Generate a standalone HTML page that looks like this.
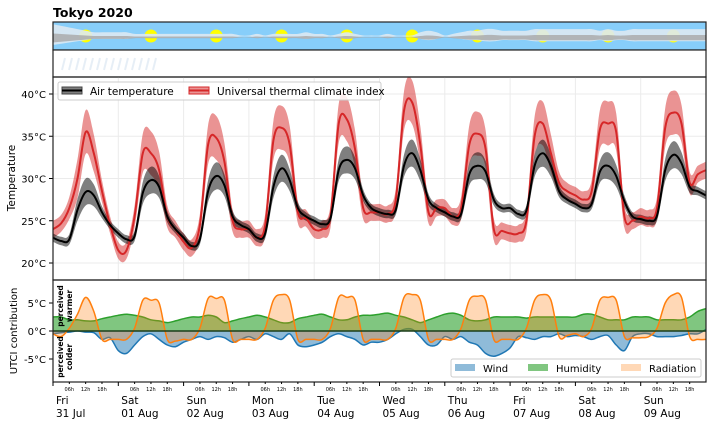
<!DOCTYPE html>
<html><head><meta charset="utf-8"><style>
body{margin:0;background:#fff;width:712px;height:424px;overflow:hidden;font-family:"Liberation Sans","DejaVu Sans",sans-serif}
svg text{font-family:"DejaVu Sans","Liberation Sans",sans-serif}
</style></head><body>
<svg id="c" width="712" height="424" xmlns="http://www.w3.org/2000/svg"></svg>
<script>
const days=["Fri","Sat","Sun","Mon","Tue","Wed","Thu","Fri","Sat","Sun"];
const dates=["31 Jul","01 Aug","02 Aug","03 Aug","04 Aug","05 Aug","06 Aug","07 Aug","08 Aug","09 Aug"];
const tempTicks=[20,25,30,35,40];
const utciTicks=[-5,0,5];
const airTemp=[23.0,22.6,22.8,26.3,28.4,28.0,26.0,24.5, 23.5,22.8,23.2,28.3,29.8,29.0,25.5,24.0, 23.0,22.0,22.8,28.5,30.3,29.2,25.5,24.5, 24.0,23.0,23.5,29.0,31.2,29.8,26.5,25.5, 25.0,24.6,25.3,31.0,32.2,31.2,28.0,26.5, 26.0,25.8,26.3,31.5,33.0,31.0,27.5,26.5, 26.0,25.5,25.8,30.5,31.5,30.8,27.5,26.5, 26.5,25.8,26.2,31.5,33.0,31.5,28.5,27.5, 27.0,26.5,27.0,30.8,31.5,30.3,27.3,25.5, 25.2,25.0,25.6,31.0,32.8,31.8,29.0,28.5, 28.0];
const utci=[24.0,24.7,26.5,30.0,35.5,33.0,28.5,24.5, 21.5,21.5,25.5,33.0,33.0,31.0,25.5,24.0, 22.5,21.8,24.5,34.0,34.8,32.0,25.0,24.0, 24.0,23.0,24.5,34.5,36.0,34.0,26.0,25.3, 24.0,24.0,25.5,36.5,37.0,33.5,26.5,26.0, 26.0,25.8,27.5,38.0,39.0,34.0,26.0,26.5, 26.5,25.5,26.5,34.0,35.3,33.5,24.0,23.8, 23.5,23.5,25.0,35.0,36.5,33.0,29.5,28.5, 28.0,27.5,28.5,35.8,36.5,35.5,25.5,25.0, 25.5,25.3,26.5,36.0,37.8,36.5,29.5,30.5, 31.0];
const airSpread=[0.5,0.5,0.6,1.3,1.6,1.3,0.7,0.5];
const utciSpread=[1.0,1.0,1.3,2.3,2.6,2.2,1.3,1.0];
const wind=[-0.5,-0.3,-0.2,0,-0.2,-0.3,-1.5,-1.2, -3.5,-4.0,-2.5,-1.0,-0.5,-1.5,-2.5,-2.8, -2.0,-1.5,-1.0,-1.5,-1.0,-1.2,-2.0,-1.5, -1.0,-1.5,-0.5,-1.0,-1.5,-0.5,-2.5,-2.8, -2.5,-2.0,-1.0,-0.5,-1.0,-1.5,-2.5,-2.0, -2.0,-1.5,-0.5,0.3,0.3,-1.0,-2.5,-2.5, -1.0,-1.5,-1.0,-2.0,-2.5,-4.0,-4.5,-4.0, -3.0,-1.0,-1.2,-1.5,-1.0,-1.0,-0.5,-1.0, -0.8,-1.0,-1.5,-1.0,-0.8,-2.5,-3.5,-1.0, -0.5,-0.5,-1.0,-1.0,-1.0,-0.8,-0.5,-0.5, 0.3];
const humidity=[2.5,2.5,2.0,2.0,1.8,1.8,2.2,2.5, 2.8,3.0,2.8,2.5,2.0,1.8,1.5,1.8, 2.2,2.5,2.5,2.8,2.5,1.5,1.8,2.2, 2.5,2.8,2.5,2.0,1.5,1.5,2.2,2.5, 2.8,3.0,2.5,2.0,2.0,2.5,2.8,2.8, 3.0,3.2,2.8,2.5,2.0,1.5,2.0,2.5, 3.0,3.2,2.8,2.0,1.8,2.0,2.5,2.5, 2.5,2.5,2.3,2.5,2.5,2.5,2.5,2.5, 2.5,3.0,3.0,2.5,2.0,2.0,2.0,2.5, 2.5,2.5,2.0,2.0,2.0,2.0,2.5,3.5, 4.0];
const radiation=[-0.5,-1.0,0.5,3.0,6.0,3.5,-1.5,-1.5, -1.5,-1.5,0.5,5.5,5.5,5.0,-1.5,-1.8, -1.5,-1.5,0.5,5.8,5.8,5.5,-1.5,-1.5, -1.5,-1.5,0.5,5.5,6.5,5.5,-1.5,-1.5, -1.5,-1.5,0.5,6.0,6.0,5.5,-1.5,-1.5, -1.5,-1.5,0.5,6.0,6.5,5.5,-1.5,-1.5, -1.5,-1.5,0.5,5.5,6.2,5.5,-1.5,-1.5, -1.5,-1.5,0.5,5.5,6.5,5.5,-1.0,-0.8, -0.5,-1.0,0.5,5.5,6.0,5.5,-1.0,-1.2, -1.2,-1.0,0.5,5.0,6.5,6.0,-1.0,-1.5, -1.5];
const cloud=[7,6,5,4,3,2,2,2, 2,2,1,1,1,1,1,1, 1,1,1,1,1,1,1,0, 0,1,0,1,1,1,1,2, 1,1,0,1,2,1,0,0, 0,1,0,0,0,2,3,2, 0,1,2,3,3,4,4,3, 3,3,3,4,4,4,4,4, 4,4,4,3,4,3,3,4, 4,4,4,4,4,4,4,4, 4];

const NS="http://www.w3.org/2000/svg", svg=document.getElementById('c');
const X0=53,X1=706;
const xs=h=>X0+h/240*(X1-X0);
const yT=v=>263-(v-20)*8.45;
const yU=v=>331-v*5.6;
function el(t,a,p){const e=document.createElementNS(NS,t);for(const k in a)e.setAttribute(k,a[k]);(p||svg).appendChild(e);return e;}
function txt(s,a,p){const e=el('text',a,p);e.textContent=s;return e;}
const N=airTemp.length;
const hrs=i=>i*3;
// smooth path through points (Catmull-Rom)
function spl(pts,start){let d=start?'M'+pts[0][0].toFixed(1)+','+pts[0][1].toFixed(1):'L'+pts[0][0].toFixed(1)+','+pts[0][1].toFixed(1);
for(let i=0;i<pts.length-1;i++){const p0=pts[Math.max(0,i-1)],p1=pts[i],p2=pts[i+1],p3=pts[Math.min(pts.length-1,i+2)];
const c1=[p1[0]+(p2[0]-p0[0])/6,p1[1]+(p2[1]-p0[1])/6],c2=[p2[0]-(p3[0]-p1[0])/6,p2[1]-(p3[1]-p1[1])/6];
d+='C'+c1[0].toFixed(1)+','+c1[1].toFixed(1)+' '+c2[0].toFixed(1)+','+c2[1].toFixed(1)+' '+p2[0].toFixed(1)+','+p2[1].toFixed(1);}return d;}
function pts(arr,ys){return arr.map((v,i)=>[xs(hrs(i)),ys(v)]);}
function line(arr,ys){return spl(pts(arr,ys),true);}
function band(lo,hi,ys){return spl(pts(hi,ys),true)+spl(pts(lo,ys).reverse(),false)+'Z';}

let t=txt('Tokyo 2020',{x:53,y:17,'font-size':12.5,'font-weight':'bold',fill:'#000'});


let sky=el('rect',{x:X0,y:22,width:X1-X0,height:28,fill:'#87cefa'});

for(let d=0;d<10;d++){let s=el('circle',{cx:xs(d*24+12),cy:36,r:6.5,fill:'#ffff00'});
}
{let up=[],dn=[],up2=[],dn2=[];
for(let i=0;i<N;i++){const x=xs(hrs(i));up.push([x,36-cloud[i]*1.6-0.5]);dn.push([x,36+cloud[i]*1.2+0.5]);up2.push([x,37-cloud[i]*0.5]);dn2.push([x,37.5+cloud[i]*0.7]);}
let c1=el('path',{d:spl(up,true)+spl(dn.reverse(),false)+'Z',fill:'#dde9f2','fill-opacity':0.9});
let c2=el('path',{d:spl(up2,true)+spl(dn2.reverse(),false)+'Z',fill:'#a8a8a8','fill-opacity':0.8});}
el('rect',{x:X0,y:22,width:X1-X0,height:28,fill:'none',stroke:'#222','stroke-width':1.2});
let rain=el('rect',{x:X0,y:50,width:X1-X0,height:27,fill:'#fff',stroke:'#222','stroke-width':1.2});

for(let k=0;k<14;k++){el('line',{x1:62+k*7,y1:70,x2:65+k*7,y2:58,stroke:'#e6eef6','stroke-width':2});}

let tp=el('g',{});
for(let d=1;d<10;d++)el('line',{x1:xs(d*24),y1:77,x2:xs(d*24),y2:280,stroke:'#ebebeb'},tp);
tempTicks.forEach(v=>{el('line',{x1:X0,y1:yT(v),x2:X1,y2:yT(v),stroke:'#ebebeb'},tp);
el('line',{x1:X0-4,y1:yT(v),x2:X0,y2:yT(v),stroke:'#000'},tp);
let l=txt(v+'°C',{x:X0-7,y:yT(v)+4,'font-size':10,'text-anchor':'end'},tp);});
let aLo=airTemp.map((v,i)=>v-airSpread[i%8]),aHi=airTemp.map((v,i)=>v+airSpread[i%8]);
let uLo=utci.map((v,i)=>v-utciSpread[i%8]),uHi=utci.map((v,i)=>v+utciSpread[i%8]);
let ub=el('path',{d:band(uLo,uHi,yT),fill:'#d62728','fill-opacity':0.5},tp);
let ab=el('path',{d:band(aLo,aHi,yT),fill:'#000','fill-opacity':0.5},tp);
let ul=el('path',{d:line(utci,yT),fill:'none',stroke:'#d62728','stroke-width':2},tp);
let al=el('path',{d:line(airTemp,yT),fill:'none',stroke:'#000','stroke-width':2},tp);
el('rect',{x:X0,y:77,width:X1-X0,height:203,fill:'none',stroke:'#222','stroke-width':1.2});
let yl=txt('Temperature',{transform:'translate(15,178) rotate(-90)','font-size':10.5,'text-anchor':'middle'});
let lg=el('g',{});
el('rect',{x:58,y:82,width:323,height:18,rx:2,fill:'#fff','fill-opacity':0.85,stroke:'#ccc'},lg);
el('rect',{x:62,y:87,width:20,height:7,fill:'#000','fill-opacity':0.5,stroke:'#444'},lg);
el('line',{x1:62,y1:90.5,x2:82,y2:90.5,stroke:'#000','stroke-width':2},lg);
let la=txt('Air temperature',{x:90,y:95,'font-size':10.5},lg);
el('rect',{x:189,y:87,width:20,height:7,fill:'#d62728','fill-opacity':0.5,stroke:'#d62728'},lg);
el('line',{x1:189,y1:90.5,x2:209,y2:90.5,stroke:'#d62728','stroke-width':2},lg);
let lu=txt('Universal thermal climate index',{x:217,y:95,'font-size':10.5},lg);

let bp=el('g',{});
function fillZero(arr){return 'M'+xs(0)+','+yU(0)+spl(pts(arr,yU),false)+'L'+xs(hrs(N-1))+','+yU(0)+'Z';}
[[wind,'#1f77b4',0.5,'wind'],[humidity,'#2ca02c',0.6,'humidity'],[radiation,'#ff7f0e',0.3,'radiation']].forEach(([a,c,o,n])=>{
let f=el('path',{d:fillZero(a),fill:c,'fill-opacity':o},bp);
let l=el('path',{d:line(a,yU),fill:'none',stroke:c,'stroke-width':1.5},bp);});
el('line',{x1:X0,y1:yU(0),x2:X1,y2:yU(0),stroke:'#1a3d1a','stroke-width':1.5},bp);
utciTicks.forEach(v=>{el('line',{x1:X0-4,y1:yU(v),x2:X0,y2:yU(v),stroke:'#000'},bp);
let l=txt(v+'°C',{x:X0-7,y:yU(v)+4,'font-size':10,'text-anchor':'end'},bp);});
el('rect',{x:X0,y:280,width:X1-X0,height:102,fill:'none',stroke:'#222','stroke-width':1.2});
let y2=txt('UTCI contribution',{transform:'translate(17,331) rotate(-90)','font-size':10,'text-anchor':'middle'});
let pw=txt('perceived',{transform:'translate(63,306) rotate(-90)','font-size':7.5,'font-weight':'bold','text-anchor':'middle'});
txt('warmer',{transform:'translate(72,306) rotate(-90)','font-size':7.5,'font-weight':'bold','text-anchor':'middle'});
let pc=txt('perceived',{transform:'translate(63,357) rotate(-90)','font-size':7.5,'font-weight':'bold','text-anchor':'middle'});
txt('colder',{transform:'translate(72,357) rotate(-90)','font-size':7.5,'font-weight':'bold','text-anchor':'middle'});
let lg2=el('g',{});
el('rect',{x:451,y:359,width:250,height:18,rx:2,fill:'#fff','fill-opacity':0.85,stroke:'#ccc'},lg2);
[['Wind','#1f77b4',0.5,455],['Humidity','#2ca02c',0.6,528],['Radiation','#ff7f0e',0.3,621]].forEach(([n,c,o,x])=>{
el('rect',{x:x,y:364,width:20,height:7,fill:c,'fill-opacity':o},lg2);
let l=txt(n,{x:x+28,y:372,'font-size':10},lg2);});

for(let d=0;d<10;d++){
el('line',{x1:xs(d*24),y1:382,x2:xs(d*24),y2:386,stroke:'#000'});
[6,12,18].forEach(h=>{el('line',{x1:xs(d*24+h),y1:382,x2:xs(d*24+h),y2:384,stroke:'#000'});
txt((h<10?'0':'')+h+'h',{x:xs(d*24+h),y:391,'font-size':5,'text-anchor':'middle'});});
let a=txt(days[d],{x:xs(d*24)+3,y:404,'font-size':10.5});
let b=txt(dates[d],{x:xs(d*24)+3,y:417,'font-size':10.5});}
</script>
</body></html>
